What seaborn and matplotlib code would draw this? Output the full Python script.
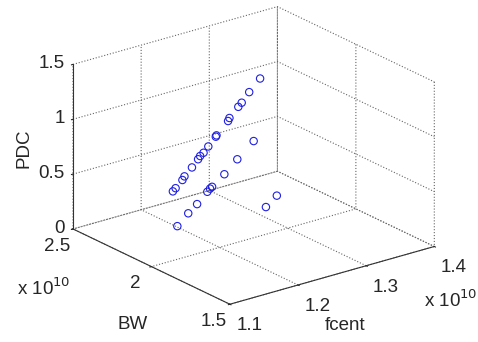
import numpy as np
import matplotlib
matplotlib.use("Agg")
import matplotlib.pyplot as plt
import seaborn as sns
from matplotlib.ticker import FuncFormatter

# data (fcent and BW in Hz)
fcent = [1.317e10, 1.301e10, 1.290e10, 1.285e10, 1.272e10, 1.270e10, 1.253e10, 1.252e10,
         1.241e10, 1.234e10, 1.229e10, 1.226e10, 1.217e10, 1.206e10, 1.203e10, 1.193e10,
         1.189e10,
         1.250e10, 1.226e10, 1.207e10, 1.189e10, 1.186e10, 1.182e10, 1.167e10, 1.154e10,
         1.138e10, 1.284e10, 1.268e10]
bw = [2.25e10] * 17 + [2.0e10] * 11
pdc = [1.162, 1.066, 0.989, 0.960, 0.881, 0.857, 0.756, 0.746,
       0.676, 0.631, 0.610, 0.586, 0.527, 0.465, 0.437, 0.380,
       0.358,
       0.881, 0.757, 0.654, 0.571, 0.560, 0.538, 0.452, 0.391,
       0.302, 0.324, 0.248]

x_ticks = [1.1e10, 1.2e10, 1.3e10, 1.4e10]
y_ticks = [1.5e10, 2.0e10, 2.5e10]
z_ticks = [0, 0.5, 1, 1.5]

sns.set_style("white")
plt.rcParams['font.family'] = ['Liberation Sans', 'DejaVu Sans']
plt.rcParams['font.size'] = 13.5
plt.rcParams['grid.linestyle'] = ':'
plt.rcParams['grid.color'] = '#666666'
plt.rcParams['grid.linewidth'] = 0.8

fig = plt.figure(figsize=(4.78, 3.42), dpi=100)
ax = fig.add_axes([0.021, 0.032, 1.0, 1.0], projection='3d', proj_type='ortho')
ax.view_init(elev=21.6, azim=-127.5)
ax.set_box_aspect((1, 1, 0.687), zoom=1.15)

ax.scatter(fcent, bw, pdc, s=28, facecolors='none', edgecolors='#2020e0',
           linewidths=0.8, depthshade=False)

ax.set_xlim(1.1e10, 1.4e10, view_margin=0)
ax.set_ylim(1.5e10, 2.5e10, view_margin=0)
ax.set_zlim(0, 1.5, view_margin=0)
ax.set_xticks(x_ticks)
ax.set_yticks(y_ticks)
ax.set_zticks(z_ticks)
ax.xaxis.set_major_formatter(FuncFormatter(lambda v, p: f'{v / 1e10:g}'))
ax.yaxis.set_major_formatter(FuncFormatter(lambda v, p: f'{v / 1e10:g}'))
ax.zaxis.set_major_formatter(FuncFormatter(lambda v, p: f'{v:g}'))
ax.xaxis.set_tick_params(pad=8)
ax.yaxis.set_tick_params(pad=2)
ax.zaxis.set_tick_params(pad=-5)

for axis in (ax.xaxis, ax.yaxis, ax.zaxis):
    axis.set_pane_color((1, 1, 1, 0))
    axis.pane.set_edgecolor((1, 1, 1, 0))
    axis.line.set_color('#333333')
    axis.line.set_linewidth(0.8)
    axis._axinfo['tick']['inward_factor'] = 0.1
    axis._axinfo['tick']['outward_factor'] = 0.0
    for t in axis.get_major_ticks():
        t.label1.set_va('center')
for t in ax.xaxis.get_major_ticks():
    t.label1.set_va('bottom')
for t in ax.zaxis.get_major_ticks():
    t.label1.set_ha('right')

# axis titles and exponent notes, placed as in the MATLAB figure
fig.text(0.722, 0.047, 'fcent', ha='center', va='center')
fig.text(0.278, 0.05, 'BW', ha='center', va='center')
fig.text(0.05, 0.567, 'PDC', ha='center', va='center', rotation=90)
fig.text(0.091, 0.158, r'x 10$^{10}$', ha='center', va='center')
fig.text(0.944, 0.123, r'x 10$^{10}$', ha='center', va='center')

fig.savefig('out.png', dpi=100)
